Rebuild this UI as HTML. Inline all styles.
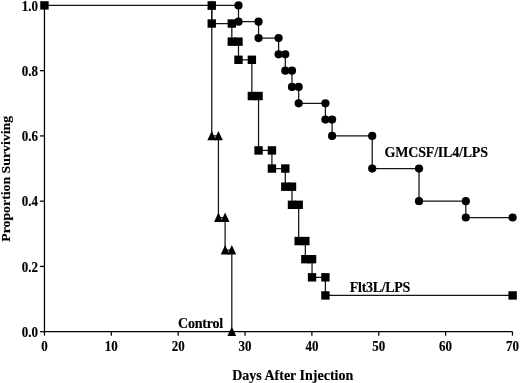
<!DOCTYPE html><html><head><meta charset="utf-8"><style>html,body{margin:0;padding:0;background:#fff;}svg{display:block;will-change:transform;filter:blur(0.25px);}text{font-family:"Liberation Serif",serif;font-weight:bold;fill:#000;stroke:#000;stroke-width:0.15px;}</style></head><body>
<svg width="520" height="383" viewBox="0 0 520 383">
<g stroke="#000" stroke-width="1.25" fill="none">
<path d="M44.45 4.40 V331.70 H512.47"/>
<path d="M39.95 331.70 H44.45"/>
<path d="M39.95 266.44 H44.45"/>
<path d="M39.95 201.18 H44.45"/>
<path d="M39.95 135.92 H44.45"/>
<path d="M39.95 70.66 H44.45"/>
<path d="M44.45 331.70 V335.70"/>
<path d="M111.31 331.70 V335.70"/>
<path d="M178.17 331.70 V335.70"/>
<path d="M245.03 331.70 V335.70"/>
<path d="M311.89 331.70 V335.70"/>
<path d="M378.75 331.70 V335.70"/>
<path d="M445.61 331.70 V335.70"/>
<path d="M512.47 331.70 V335.70"/>
</g>
<path d="M44.45 5.40 H238.49 V21.71 H258.55 V38.03 H278.61 V54.34 H285.30 V70.66 H291.98 V86.97 H298.67 V103.29 H325.41 V119.60 H332.10 V135.92 H372.21 V168.55 H419.02 V201.18 H465.82 V217.50 H512.62" stroke="#141414" stroke-width="1.25" fill="none"/>
<path d="M211.75 5.40 V23.53 H231.81 V41.66 H238.49 V59.78 H251.87 V96.04 H258.55 V150.42 H271.92 V168.55 H285.30 V186.68 H291.98 V204.81 H298.67 V241.06 H305.35 V259.19 H312.04 V277.32 H325.41 V295.44 H512.62" stroke="#141414" stroke-width="1.25" fill="none"/>
<path d="M211.75 5.40 V135.92 H218.44 V217.50 H225.12 V250.12 H231.81 V331.70" stroke="#141414" stroke-width="1.25" fill="none"/>
<path d="M211.75 0.40 L216.15 9.80 L207.35 9.80 Z"/>
<path d="M211.75 130.92 L216.15 140.32 L207.35 140.32 Z"/>
<path d="M218.44 130.92 L222.84 140.32 L214.04 140.32 Z"/>
<path d="M218.44 212.50 L222.84 221.90 L214.04 221.90 Z"/>
<path d="M225.12 212.50 L229.52 221.90 L220.72 221.90 Z"/>
<path d="M225.12 245.12 L229.52 254.53 L220.72 254.53 Z"/>
<path d="M231.81 245.12 L236.21 254.53 L227.41 254.53 Z"/>
<path d="M231.81 326.70 L236.21 336.10 L227.41 336.10 Z"/>
<circle cx="238.49" cy="5.40" r="4.10"/>
<circle cx="238.49" cy="21.71" r="4.10"/>
<circle cx="258.55" cy="21.71" r="4.10"/>
<circle cx="258.55" cy="38.03" r="4.10"/>
<circle cx="278.61" cy="38.03" r="4.10"/>
<circle cx="278.61" cy="54.34" r="4.10"/>
<circle cx="285.30" cy="54.34" r="4.10"/>
<circle cx="285.30" cy="70.66" r="4.10"/>
<circle cx="291.98" cy="70.66" r="4.10"/>
<circle cx="291.98" cy="86.97" r="4.10"/>
<circle cx="298.67" cy="86.97" r="4.10"/>
<circle cx="298.67" cy="103.29" r="4.10"/>
<circle cx="325.41" cy="103.29" r="4.10"/>
<circle cx="325.41" cy="119.60" r="4.10"/>
<circle cx="332.10" cy="119.60" r="4.10"/>
<circle cx="332.10" cy="135.92" r="4.10"/>
<circle cx="372.21" cy="135.92" r="4.10"/>
<circle cx="372.21" cy="168.55" r="4.10"/>
<circle cx="419.02" cy="168.55" r="4.10"/>
<circle cx="419.02" cy="201.18" r="4.10"/>
<circle cx="465.82" cy="201.18" r="4.10"/>
<circle cx="465.82" cy="217.50" r="4.10"/>
<circle cx="512.62" cy="217.50" r="4.10"/>
<rect x="40.25" y="1.20" width="8.40" height="8.40"/>
<rect x="207.55" y="1.20" width="8.40" height="8.40"/>
<rect x="207.55" y="19.33" width="8.40" height="8.40"/>
<rect x="227.61" y="19.33" width="8.40" height="8.40"/>
<rect x="227.61" y="37.46" width="8.40" height="8.40"/>
<rect x="234.29" y="37.46" width="8.40" height="8.40"/>
<rect x="234.29" y="55.58" width="8.40" height="8.40"/>
<rect x="247.67" y="55.58" width="8.40" height="8.40"/>
<rect x="247.67" y="91.84" width="8.40" height="8.40"/>
<rect x="254.35" y="91.84" width="8.40" height="8.40"/>
<rect x="254.35" y="146.22" width="8.40" height="8.40"/>
<rect x="267.72" y="146.22" width="8.40" height="8.40"/>
<rect x="267.72" y="164.35" width="8.40" height="8.40"/>
<rect x="281.10" y="164.35" width="8.40" height="8.40"/>
<rect x="281.10" y="182.48" width="8.40" height="8.40"/>
<rect x="287.78" y="182.48" width="8.40" height="8.40"/>
<rect x="287.78" y="200.61" width="8.40" height="8.40"/>
<rect x="294.47" y="200.61" width="8.40" height="8.40"/>
<rect x="294.47" y="236.86" width="8.40" height="8.40"/>
<rect x="301.15" y="236.86" width="8.40" height="8.40"/>
<rect x="301.15" y="254.99" width="8.40" height="8.40"/>
<rect x="307.84" y="254.99" width="8.40" height="8.40"/>
<rect x="307.84" y="273.12" width="8.40" height="8.40"/>
<rect x="321.21" y="273.12" width="8.40" height="8.40"/>
<rect x="321.21" y="291.24" width="8.40" height="8.40"/>
<rect x="508.42" y="291.24" width="8.40" height="8.40"/>
<text transform="translate(37.90,336.91) scale(1.000,1.050)" text-anchor="end" font-size="13.00">0.0</text>
<text transform="translate(37.90,271.65) scale(1.000,1.050)" text-anchor="end" font-size="13.00">0.2</text>
<text transform="translate(37.90,206.39) scale(1.000,1.050)" text-anchor="end" font-size="13.00">0.4</text>
<text transform="translate(37.90,141.13) scale(1.000,1.050)" text-anchor="end" font-size="13.00">0.6</text>
<text transform="translate(37.90,75.87) scale(1.000,1.050)" text-anchor="end" font-size="13.00">0.8</text>
<text transform="translate(37.90,10.61) scale(1.000,1.050)" text-anchor="end" font-size="13.00">1.0</text>
<text transform="translate(44.45,350.61) scale(1.000,1.050)" text-anchor="middle" font-size="13.00">0</text>
<text transform="translate(111.31,350.61) scale(1.000,1.050)" text-anchor="middle" font-size="13.00">10</text>
<text transform="translate(178.17,350.61) scale(1.000,1.050)" text-anchor="middle" font-size="13.00">20</text>
<text transform="translate(245.03,350.61) scale(1.000,1.050)" text-anchor="middle" font-size="13.00">30</text>
<text transform="translate(311.89,350.61) scale(1.000,1.050)" text-anchor="middle" font-size="13.00">40</text>
<text transform="translate(378.75,350.61) scale(1.000,1.050)" text-anchor="middle" font-size="13.00">50</text>
<text transform="translate(445.61,350.61) scale(1.000,1.050)" text-anchor="middle" font-size="13.00">60</text>
<text transform="translate(512.47,350.61) scale(1.000,1.050)" text-anchor="middle" font-size="13.00">70</text>
<text transform="translate(292.70,379.90) scale(1.000,1.000)" text-anchor="middle" font-size="14.00">Days After Injection</text>
<text transform="translate(10.10,178.85) rotate(-90) scale(1.062,1.000)" text-anchor="middle" font-size="13.00">Proportion Surviving</text>
<text transform="translate(384.60,157.00) scale(1.000,1.000)" text-anchor="start" font-size="14.00" letter-spacing="-0.20">GMCSF/IL4/LPS</text>
<text transform="translate(349.80,291.70) scale(1.000,1.000)" text-anchor="start" font-size="14.00" letter-spacing="-0.30">Flt3L/LPS</text>
<text transform="translate(178.00,327.50) scale(1.000,1.000)" text-anchor="start" font-size="14.00" letter-spacing="-0.20">Control</text>
</svg></body></html>
